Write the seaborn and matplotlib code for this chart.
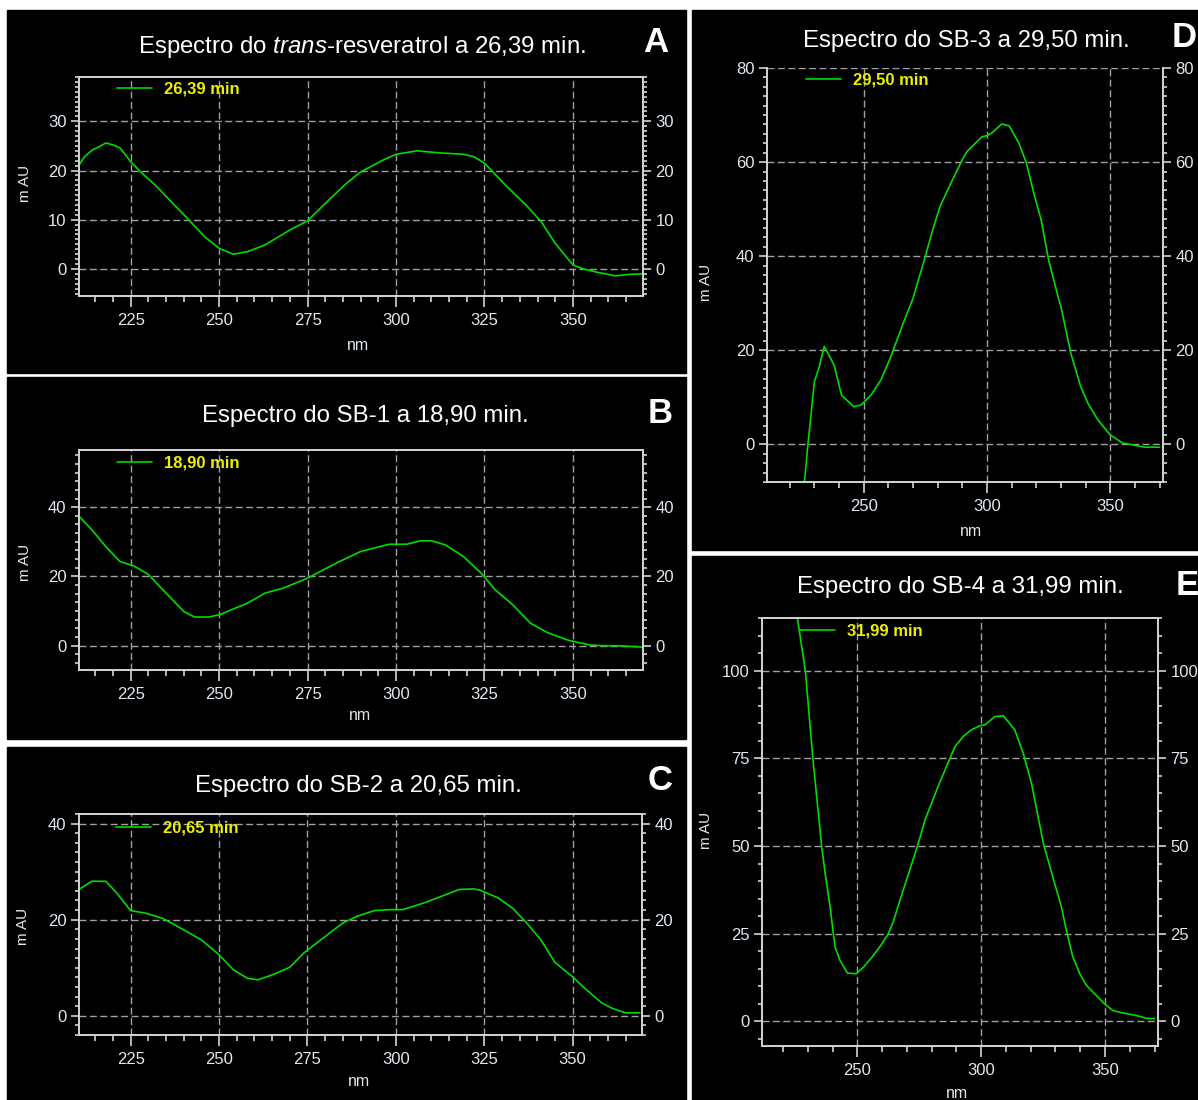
import matplotlib
matplotlib.use("Agg")
import matplotlib.pyplot as plt
from matplotlib.patches import Rectangle
from matplotlib.ticker import FixedLocator, MultipleLocator
import seaborn as sns

sns.set_style("ticks")
plt.rcParams['font.family'] = ['Liberation Sans', 'DejaVu Sans']
plt.rcParams['mathtext.fontset'] = 'custom'
plt.rcParams['mathtext.rm'] = 'Liberation Sans'
plt.rcParams['mathtext.it'] = 'Liberation Sans:italic'

# DATA (wavelength nm, absorbance mAU)
a_nm = [210, 212, 214, 216, 218, 220, 222, 225, 228, 232, 236, 241, 246, 250, 254, 258, 263, 270,
        275, 281, 286, 290, 296, 300, 306, 312, 319, 322, 325, 331, 337, 341, 345, 350, 353, 357,
        362, 366, 370]
a_mau = [20.7, 22.8, 24.1, 24.8, 25.6, 25.2, 24.6, 21.8, 19.6, 17.0, 14.0, 10.3, 6.5, 4.2, 3.0, 3.5,
         4.9, 7.9, 9.8, 14.0, 17.4, 19.7, 22.0, 23.3, 24.0, 23.6, 23.3, 22.8, 21.5, 17.0, 12.8, 9.6,
         5.2, 0.8, 0.0, -0.7, -1.4, -1.1, -1.0]

b_nm = [210, 214, 218, 222, 226, 230, 235, 240, 243, 247, 250, 254, 258, 263, 268, 275, 283, 290,
        298, 303, 307, 310, 314, 319, 324, 328, 333, 338, 343, 349, 355, 359, 363, 370]
b_mau = [37.8, 33.5, 28.6, 24.3, 23.0, 20.6, 15.2, 9.9, 8.3, 8.3, 8.9, 10.6, 12.3, 15.2, 16.6, 19.5,
         23.8, 27.2, 29.3, 29.3, 30.3, 30.3, 29.1, 25.8, 21.0, 16.2, 11.8, 6.5, 3.7, 1.5, 0.2, 0.0,
         0.0, -0.4]

c_nm = [210, 214, 218, 221, 225, 229, 234, 240, 245, 250, 254, 258, 261, 265, 270, 274, 280, 285,
        289, 294, 299, 302, 308, 313, 318, 322, 324, 329, 333, 337, 341, 345, 350, 353, 358, 361,
        365, 369]
c_mau = [26.1, 28.0, 28.0, 25.6, 21.9, 21.4, 20.3, 17.9, 15.8, 12.7, 9.6, 7.8, 7.5, 8.5, 10.1, 13.1,
         16.5, 19.3, 20.7, 21.9, 22.1, 22.1, 23.5, 24.9, 26.3, 26.4, 26.1, 24.5, 22.4, 19.3, 15.8,
         11.1, 8.1, 6.0, 2.8, 1.6, 0.6, 0.6]

d_nm = [224, 226, 227.3, 228.7, 230, 232, 234, 238, 241, 246, 249, 253, 257, 261, 266, 270, 275,
        278, 281, 286, 290, 292, 298, 300, 302, 306, 309, 313, 316, 319, 322, 325, 329, 330, 334,
        338, 341, 345, 350, 355, 361, 364, 370]
d_mau = [-20, -8, -0.5, 6.6, 13.3, 16.5, 20.8, 16.9, 10.5, 8.0, 8.4, 10.5, 13.7, 18.6, 25.7, 31.0,
         39.9, 45.6, 50.6, 56.2, 60.5, 62.3, 65.4, 65.6, 66.2, 68.1, 67.7, 64.0, 59.8, 53.4, 47.7,
         39.2, 31.1, 29.3, 19.4, 12.3, 8.7, 5.2, 2.0, 0.3, -0.3, -0.6, -0.6]

e_nm = [222, 225.8, 229, 232, 235.5, 237, 239, 241, 243, 246, 249.5, 252.5, 256, 259.5, 262.5,
        264.5, 268.5, 272, 274.5, 277.3, 282, 285.4, 289.4, 292.7, 296, 299.5, 301.5, 305.5, 309,
        313.6, 317, 320.3, 323, 325.2, 327, 329.7, 332.4, 334.4, 337, 339.8, 342.5, 345.8, 350,
        353.2, 357.3, 362.7, 366.7, 370]
e_mau = [134, 115, 100, 75.3, 50.5, 42.2, 32.6, 21.2, 17.4, 13.8, 13.6, 15.5, 18.4, 21.7, 25.0,
         28.4, 37.4, 45.0, 50.5, 57.4, 65.9, 71.7, 78.3, 81.2, 83.1, 84.3, 84.5, 86.9, 87.1, 83.1,
         76.4, 67.9, 58.3, 50.5, 46.0, 39.3, 32.6, 26.0, 18.4, 13.6, 10.3, 7.9, 4.9, 3.1, 2.4, 1.7,
         0.9, 0.8]

titles = [r"Espectro do $\mathit{trans}$-resveratrol a 26,39 min.",
          "Espectro do SB-1 a 18,90 min.",
          "Espectro do SB-2 a 20,65 min.",
          "Espectro do SB-3 a 29,50 min.",
          "Espectro do SB-4 a 31,99 min."]
legend_labels = ["26,39 min", "18,90 min", "20,65 min", "29,50 min", "31,99 min"]
letters = ["A", "B", "C", "D", "E"]
y_ticks = [[0, 10, 20, 30], [0, 20, 40], [0, 20, 40], [0, 20, 40, 60, 80], [0, 25, 50, 75, 100]]
x_ticks = [[225, 250, 275, 300, 325, 350]] * 3 + [[250, 300, 350]] * 2

# LAYOUT (pixels, measured from top-left)
W, H = 1198, 1100
panels = [
    dict(bg=(7, 10, 686, 373), ax=(79, 77, 643, 296), xlim=(210.4, 369.8), ylim=(-5.5, 39),
         ymin=1, xmin=5, title=(362, 53), letter=(656, 52), ylab=(25, 183), xlab=(358, 346),
         leg=(117, 89), top=True),
    dict(bg=(7, 377, 686, 739), ax=(79, 450, 643, 670), xlim=(210.4, 369.8), ylim=(-7, 56.5),
         ymin=2.5, xmin=5, title=(365, 422), letter=(660, 423), ylab=(25, 562), xlab=(360, 715),
         leg=(117, 463), top=True),
    dict(bg=(7, 747, 686, 1100), ax=(79, 814, 642, 1035), xlim=(210.4, 369.6), ylim=(-4, 42),
         ymin=2, xmin=5, title=(358, 792), letter=(660, 790), ylab=(23, 926), xlab=(359, 1081),
         leg=(116, 828), top=True),
    dict(bg=(692, 10, 1198, 550), ax=(767, 68, 1163, 482), xlim=(210.8, 371.4), ylim=(-8, 80),
         ymin=2, xmin=10, title=(966, 47), letter=(1184, 47), ylab=(706, 282), xlab=(971, 532),
         leg=(806, 80), top=False),
    dict(bg=(692, 556, 1198, 1100), ax=(762, 618, 1158, 1046), xlim=(211.5, 371.4), ylim=(-7, 115),
         ymin=5, xmin=10, title=(960, 593), letter=(1187, 595), ylab=(706, 830), xlab=(957, 1093),
         leg=(800, 631), top=True),
]
series = [(a_nm, a_mau), (b_nm, b_mau), (c_nm, c_mau), (d_nm, d_mau), (e_nm, e_mau)]

GREEN = '#00dc00'
SPINE = '#d4d4d4'
TICKLAB = '#dfe8f0'
GRID = '#a0a0a0'

fig = plt.figure(figsize=(W / 100, H / 100), dpi=100, facecolor='white')


def fx(x):
    return x / W


def fy(y):
    return 1 - y / H


for i, p in enumerate(panels):
    x0, y0, x1, y1 = p['bg']
    fig.add_artist(Rectangle((fx(x0), fy(y1)), fx(x1 - x0), (y1 - y0) / H,
                             transform=fig.transFigure, color='black', zorder=0))

    ax0, ay0, ax1, ay1 = p['ax']
    ax = fig.add_axes([fx(ax0), fy(ay1), fx(ax1 - ax0), (ay1 - ay0) / H])
    ax.set_facecolor('black')

    nm, mau = series[i]
    sns.lineplot(x=nm, y=mau, ax=ax, color=GREEN, lw=1.2, label=legend_labels[i],
                 estimator=None, sort=False)

    ax.set_xlim(*p['xlim'])
    ax.set_ylim(*p['ylim'])
    ax.xaxis.set_major_locator(FixedLocator(x_ticks[i]))
    ax.yaxis.set_major_locator(FixedLocator(y_ticks[i]))
    ax.xaxis.set_minor_locator(MultipleLocator(p['xmin']))
    ax.yaxis.set_minor_locator(MultipleLocator(p['ymin']))
    ax.grid(True, which='major', color=GRID, ls=(0, (5, 2.5)), lw=1.0)

    for side, sp in ax.spines.items():
        sp.set_color(SPINE)
        sp.set_linewidth(1.4)
    ax.spines['top'].set_visible(p['top'])

    ax.tick_params(axis='both', which='both', colors=SPINE, labelcolor=TICKLAB, width=1.2,
                   direction='out', top=False, right=True, labelright=True, labelsize=12)
    ax.tick_params(axis='x', which='major', length=8, pad=4)
    ax.tick_params(axis='x', which='minor', length=4)
    ax.tick_params(axis='y', which='major', length=6, pad=3)
    ax.tick_params(axis='y', which='minor', length=3)

    ax.set_xlabel('')
    ax.set_ylabel('')
    fig.text(fx(p['xlab'][0]), fy(p['xlab'][1]), 'nm', color=TICKLAB, fontsize=11.5,
             ha='center', va='center')
    fig.text(fx(p['ylab'][0]), fy(p['ylab'][1]), 'm AU', color=TICKLAB, fontsize=11,
             ha='center', va='center', rotation=90)

    fig.text(fx(p['title'][0]), fy(p['title'][1]), titles[i], color='white', fontsize=17.3,
             ha='center', va='baseline')
    fig.text(fx(p['letter'][0]), fy(p['letter'][1]), letters[i], color='white', fontsize=25,
             fontweight='bold', ha='center', va='baseline')

    lx, ly = p['leg']
    ax.legend(loc='center left',
              bbox_to_anchor=((lx - ax0) / (ax1 - ax0), 1 - (ly - ay0) / (ay1 - ay0)),
              frameon=False, borderpad=0, borderaxespad=0, handlelength=2.1, handletextpad=0.7,
              labelcolor='#eeee00', prop=dict(weight='bold', size=12))

fig.savefig('out.png', dpi=100, facecolor='white')
